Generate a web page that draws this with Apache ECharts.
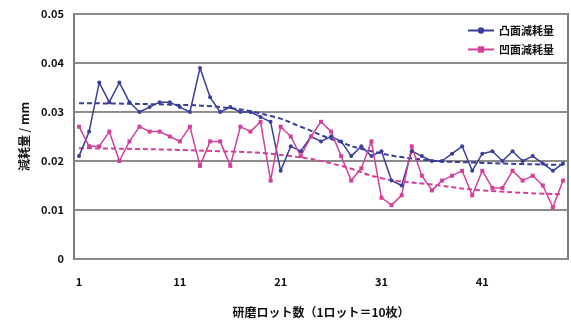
<!DOCTYPE html>
<html>
<head>
<meta charset="utf-8">
<script src="https://cdn.jsdelivr.net/npm/echarts@6/dist/echarts.min.js"></script>
<style>
  html, body { margin: 0; padding: 0; background: #fff; }
  #chart { width: 571px; height: 327px; }
</style>
</head>
<body>
<div id="chart"></div>
<script>
// 研磨ロット 1..49
const lots = Array.from({ length: 49 }, (_, i) => String(i + 1));

// 凸面減耗量 (mm)
const convex = [
  0.021, 0.026, 0.036, 0.032, 0.036, 0.032, 0.030, 0.031, 0.032, 0.032,
  0.031, 0.030, 0.039, 0.033, 0.030, 0.031, 0.030, 0.030, 0.029, 0.028,
  0.018, 0.023, 0.022, 0.025, 0.024, 0.025, 0.024, 0.021, 0.023, 0.021,
  0.022, 0.016, 0.015, 0.022, 0.021, 0.020, 0.020, 0.0215, 0.023, 0.018,
  0.0215, 0.022, 0.020, 0.022, 0.020, 0.021, 0.0195, 0.018, 0.0195
];

// 凹面減耗量 (mm)
const concave = [
  0.027, 0.023, 0.023, 0.026, 0.020, 0.024, 0.027, 0.026, 0.026, 0.025,
  0.024, 0.027, 0.019, 0.024, 0.024, 0.019, 0.027, 0.026, 0.028, 0.016,
  0.027, 0.025, 0.021, 0.025, 0.028, 0.026, 0.021, 0.016, 0.0185, 0.024,
  0.0125, 0.011, 0.013, 0.023, 0.017, 0.014, 0.016, 0.017, 0.018, 0.013,
  0.018, 0.0145, 0.0145, 0.018, 0.016, 0.017, 0.015, 0.0105, 0.016
];

// 近似曲線: [lot index, value]
const convexTrend = [
  [0, 0.0318], [9, 0.0315], [14, 0.031], [19, 0.0292], [22, 0.027],
  [25, 0.0245], [29, 0.022], [34, 0.0203], [39, 0.0197], [48, 0.0192]
];
const concaveTrend = [
  [0, 0.0226], [14, 0.022], [21, 0.021], [26, 0.019], [30, 0.0165],
  [35, 0.0152], [40, 0.014], [48, 0.0132]
];

const blue = '#3a3d99';
const pink = '#d2409a';
const font = '"Noto Sans CJK JP", "Noto Sans", sans-serif';

const myChart = echarts.init(document.getElementById('chart'));
myChart.setOption({
  animation: false,
  textStyle: { fontFamily: font },
  grid: {
    left: 74, right: 3, top: 14, bottom: 68,
    show: true,
    borderColor: '#7a7a7a',
    borderWidth: 2
  },
  legend: {
    orient: 'vertical',
    right: 12,
    top: 20,
    itemWidth: 26,
    itemHeight: 8,
    itemGap: 8,
    textStyle: { fontFamily: font, fontSize: 11, fontWeight: 'bold', color: '#111' },
    data: ['凸面減耗量', '凹面減耗量']
  },
  xAxis: {
    type: 'category',
    data: lots,
    boundaryGap: true,
    name: '研磨ロット数（1ロット＝10枚）',
    nameLocation: 'middle',
    nameGap: 47,
    nameTextStyle: { fontFamily: font, fontSize: 12, fontWeight: 'bold', color: '#111' },
    axisLine: { show: false },
    axisTick: { show: false },
    axisLabel: {
      interval: 9,
      margin: 17,
      fontSize: 11,
      fontWeight: 'bold',
      color: '#111'
    },
    splitLine: { show: false }
  },
  yAxis: {
    type: 'value',
    min: 0,
    max: 0.05,
    interval: 0.01,
    name: '減耗量 / mm',
    nameLocation: 'middle',
    nameGap: 44,
    nameTextStyle: { fontFamily: font, fontSize: 12, fontWeight: 'bold', color: '#111' },
    axisLine: { show: false },
    axisTick: { show: false },
    axisLabel: { fontSize: 11, fontWeight: 'bold', color: '#111', margin: 10 },
    splitLine: { lineStyle: { color: '#8c8c8c', width: 2 } }
  },
  series: [
    {
      name: '凸面減耗量',
      type: 'line',
      data: convex,
      symbol: 'circle',
      symbolSize: 4,
      lineStyle: { color: blue, width: 1.5 },
      itemStyle: { color: blue }
    },
    {
      name: '凹面減耗量',
      type: 'line',
      data: concave,
      symbol: 'rect',
      symbolSize: 4,
      lineStyle: { color: pink, width: 1.5 },
      itemStyle: { color: pink }
    },
    {
      name: '凸面近似',
      type: 'line',
      data: convexTrend,
      smooth: true,
      symbol: 'none',
      lineStyle: { color: blue, width: 2, type: [5, 3] },
      z: 1
    },
    {
      name: '凹面近似',
      type: 'line',
      data: concaveTrend,
      smooth: true,
      symbol: 'none',
      lineStyle: { color: pink, width: 2, type: [5, 3] },
      z: 1
    }
  ]
});
</script>
</body>
</html>
